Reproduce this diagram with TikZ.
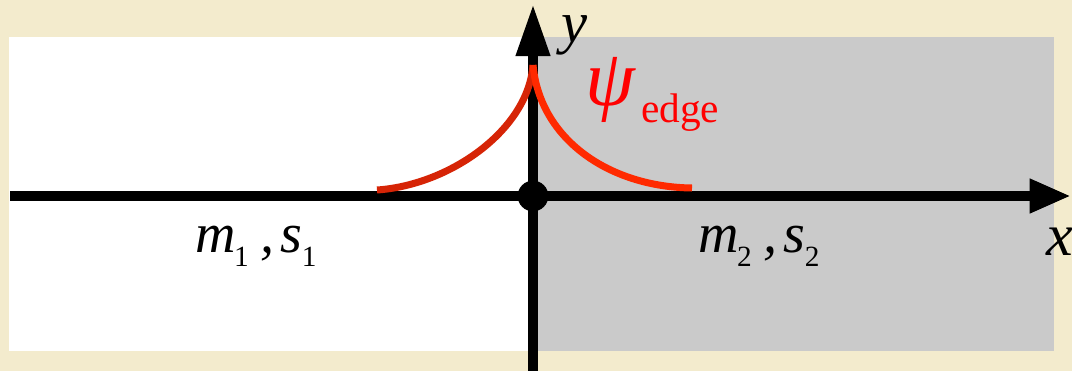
\documentclass[tikz,border=0pt]{standalone}
\usepackage{fontspec}
\setmainfont{Liberation Serif}
\newfontfamily\tnr{Liberation Serif}
\usetikzlibrary{arrows.meta}
\definecolor{parch}{RGB}{243,235,205}
\definecolor{panelgray}{RGB}{202,202,202}
\definecolor{redL}{RGB}{214,36,6}
\definecolor{redR}{RGB}{255,42,0}
\definecolor{psired}{RGB}{255,0,0}
\tikzset{
  axis/.style={line width=7.5pt},
  wave/.style={line width=5.25pt},
  lbl/.style={anchor=base west, inner sep=0pt, outer sep=0pt, font=\tnr},
}
\newcommand{\bigit}[1]{{\fontsize{42}{42}\selectfont\itshape #1}}
\newcommand{\subnum}[1]{\raisebox{-11pt}{\fontsize{22}{22}\selectfont #1}}
\begin{document}
\begin{tikzpicture}[x=0.75pt,y=-0.75pt]
  \fill[parch] (0,0) rectangle (1072,371);
  \useasboundingbox (0,0) rectangle (1072,371);
  \fill[white] (9,37) rectangle (535,351);
  \fill[panelgray] (535,37) rectangle (1054,351);
  % axes
  \coordinate (xstart) at (10,196);
  \coordinate (xend) at (1071,196);
  \coordinate (ystart) at (533,371);
  \coordinate (yend) at (533,4);
  \coordinate (origin) at (533,196);
  \coordinate (cusp) at (533,65);
  \coordinate (wl) at (377,190);
  \coordinate (wr) at (692,188);
  \draw[axis,-{Triangle[length=31pt,width=24pt]}] (xstart) -- (xend);
  \draw[axis,-{Triangle[length=39pt,width=24pt]}] (ystart) -- (yend);
  % wavefunction
  \draw[wave,redL] (wl) .. controls (450,185) and (528,130) .. (cusp);
  \draw[wave,redR] (cusp) .. controls (540,140) and (610,187) .. (wr);
  \fill (origin) circle (11.5pt);
  % labels
  \node[lbl, text height=20pt] (ylab) at (561,42) {\fontsize{44}{44}\selectfont\itshape y};
  \node[lbl] (xlab) at (1046,255) {\fontsize{45}{45}\selectfont\itshape x};
  \node[lbl] (psi) at (585,105) {\color{psired}\fontsize{60}{60}\selectfont\itshape ψ};
  \node[lbl] (edge) at (641,122) {\color{psired}\fontsize{31}{31}\selectfont edge};
  \node[lbl] (left) at (195,252) {\bigit{m}\hspace{-1pt}\subnum{1}\hspace{9pt}\bigit{,}\hspace{4pt}\bigit{s}\subnum{1}};
  \node[lbl] (right) at (698,252) {\bigit{m}\hspace{-1pt}\subnum{2}\hspace{9pt}\bigit{,}\hspace{4pt}\bigit{s}\subnum{2}};
\end{tikzpicture}
\end{document}
